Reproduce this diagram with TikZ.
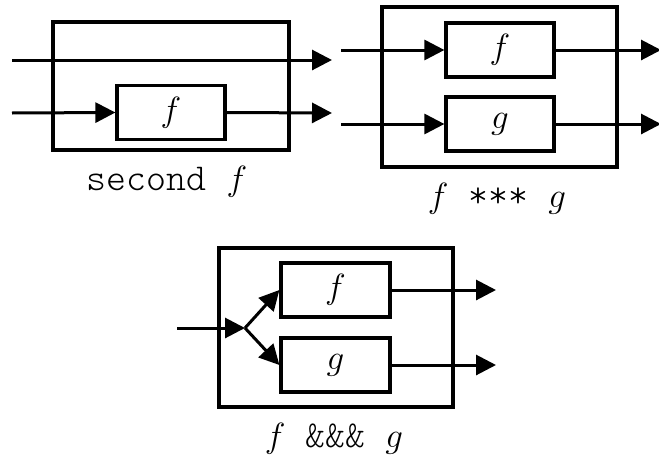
\RequirePackage{fix-cm}
\documentclass[tikz,border=0pt]{standalone}
\usepackage{fontspec}
\setmonofont{Latin Modern Mono Light}
\usetikzlibrary{arrows.meta}
\begin{document}
\begin{tikzpicture}[x=1pt,y=-1pt,
  outerbox/.style={draw,line width=3.2pt,inner sep=0pt,minimum width=#1},
  fnbox/.style={draw,line width=3.2pt,inner sep=0pt,minimum width=108pt,minimum height=54pt,font=\fontsize{35}{38}\selectfont},
  wire/.style={line width=3pt,-{Triangle[length=20pt,width=20pt]}},
  caption/.style={inner sep=0pt,font=\fontsize{35}{38}\selectfont}]
\useasboundingbox (0,0) rectangle (659,458);
% ---- second f ----
\node[outerbox=236pt,minimum height=128pt] (o1) at (171,86) {};
\node[fnbox] (f1) at (171,112.5) {$f$};
\coordinate (i1a) at (12,60);
\coordinate (e1a) at (332,60);
\coordinate (i1b) at (12,113);
\coordinate (e1b) at (332,113);
\draw[wire] (i1a) -- (e1a);
\draw[wire] (i1b) -- (f1.west);
\draw[wire] (f1.east) -- (e1b);
\node[caption] (c1) at (167,182) {{\fontsize{38}{40}\selectfont\ttfamily second }$f$};
% ---- f *** g ----
\node[outerbox=235pt,minimum height=160pt] (o2) at (499.5,87) {};
\node[fnbox] (f2) at (500,50) {$f$};
\node[fnbox] (g2) at (500,124) {$g$};
\coordinate (i2a) at (341,50);
\coordinate (i2b) at (341,124);
\coordinate (e2a) at (661,50);
\coordinate (e2b) at (661,124);
\draw[wire] (i2a) -- (f2.west);
\draw[wire] (i2b) -- (g2.west);
\draw[wire] (f2.east) -- (e2a);
\draw[wire] (g2.east) -- (e2b);
\node[caption] (c2) at (497,199) {$f${\fontsize{38}{40}\selectfont\ttfamily\ *** }$g$};
% ---- f &&& g ----
\node[outerbox=234pt,minimum height=159pt] (o3) at (336,327.5) {};
\node[fnbox,minimum width=109pt] (f3) at (335.5,290) {$f$};
\node[fnbox,minimum width=109pt] (g3) at (335.5,365) {$g$};
\coordinate (i3) at (177,328);
\coordinate (s3) at (245,328);
\coordinate (e3a) at (496,290);
\coordinate (e3b) at (496,365);
\draw[wire] (i3) -- (s3);
\draw[wire] (s3) -- (f3.west);
\draw[wire] (s3) -- (g3.west);
\draw[wire] (f3.east) -- (e3a);
\draw[wire] (g3.east) -- (e3b);
\node[caption] (c3) at (334,439) {$f${\fontsize{38}{40}\selectfont\ttfamily\ \&\&\& }$g$};
\end{tikzpicture}
\end{document}
